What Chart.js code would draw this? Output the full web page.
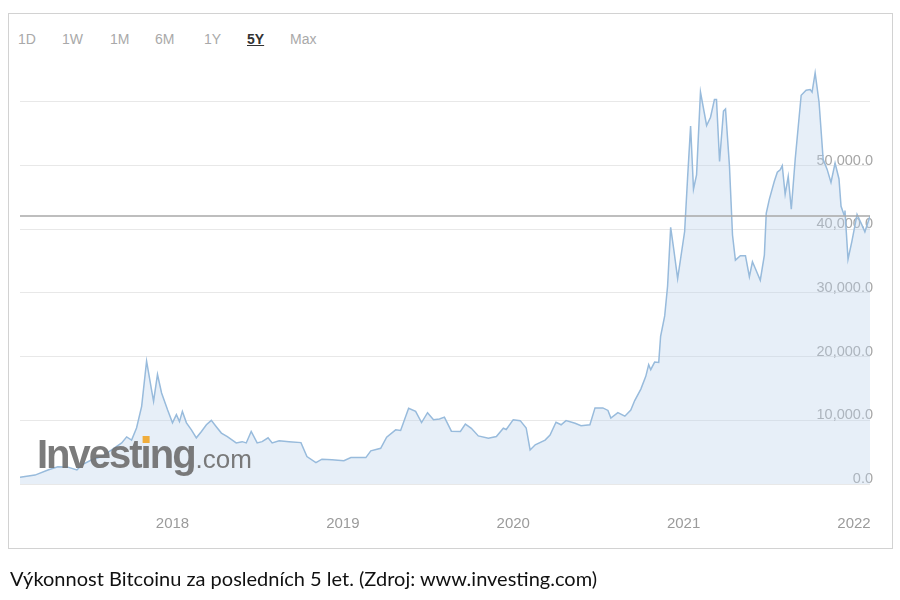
<!DOCTYPE html>
<html>
<head>
<meta charset="utf-8">
<script src="https://cdn.jsdelivr.net/npm/chart.js@4.4.1/dist/chart.umd.min.js"></script>
<style>
  body { margin: 0; background: #fff; font-family: "Liberation Sans", Arial, sans-serif; }
  #wrap { position: relative; width: 900px; height: 600px; overflow: hidden; }
  #frame { position: absolute; left: 8px; top: 13px; width: 885px; height: 536px; border: 1px solid #d2d2d2; box-sizing: border-box; }
  #chart { position: absolute; left: 0; top: 0; }
  .range { position: absolute; top: 31px; font-size: 14px; line-height: 16px; color: #a9a9a9; }
  .range.active { color: #333; font-weight: bold; text-decoration: underline; }
  #caption { position: absolute; left: 10px; top: 566px; font-family: Lato, "Open Sans", sans-serif; font-size: 20px; line-height: 24px; color: #111; }
</style>
</head>
<body>
<div id="wrap">
  <div id="frame"></div>
  <div id="ranges"></div>
  <canvas id="chart" width="900" height="600"></canvas>
  <div id="caption">Výkonnost Bitcoinu za posledních 5 let. (Zdroj: www.investing.com)</div>
</div>
<script>
// range buttons above the chart
const rangeLabels = ['1D', '1W', '1M', '6M', '1Y', '5Y', 'Max'];
const rangeLeft = [18, 62, 110, 155, 204, 247, 290];
const activeRange = '5Y';

// axis ticks
const xTicks = [2018, 2019, 2020, 2021, 2022];
const yTicks = [0, 10000, 20000, 30000, 40000, 50000, 60000];

// BTC/USD, decimal year -> price
const years = [
    2017.105, 2017.193, 2017.269, 2017.327, 2017.386, 2017.439, 2017.468, 2017.526, 2017.585, 2017.643,
    2017.702, 2017.731, 2017.760, 2017.789, 2017.819, 2017.848, 2017.877, 2017.889, 2017.912, 2017.936,
    2017.971, 2018.000, 2018.023, 2018.041, 2018.058, 2018.082, 2018.111, 2018.140, 2018.170, 2018.199,
    2018.228, 2018.257, 2018.287, 2018.322, 2018.351, 2018.374, 2018.409, 2018.433, 2018.462, 2018.497,
    2018.526, 2018.561, 2018.585, 2018.626, 2018.684, 2018.754, 2018.789, 2018.842, 2018.877, 2018.936,
    2019.006, 2019.047, 2019.135, 2019.164, 2019.222, 2019.257, 2019.310, 2019.339, 2019.386, 2019.427,
    2019.462, 2019.497, 2019.532, 2019.567, 2019.596, 2019.637, 2019.690, 2019.719, 2019.754, 2019.795,
    2019.854, 2019.901, 2019.942, 2019.959, 2020.000, 2020.041, 2020.076, 2020.099, 2020.129, 2020.187,
    2020.216, 2020.251, 2020.281, 2020.310, 2020.363, 2020.398, 2020.450, 2020.480, 2020.526, 2020.556,
    2020.573, 2020.614, 2020.655, 2020.690, 2020.713, 2020.749, 2020.778, 2020.795, 2020.807, 2020.830,
    2020.854, 2020.865, 2020.889, 2020.906, 2020.924, 2020.942, 2020.965, 2020.982, 2021.006, 2021.023,
    2021.041, 2021.058, 2021.076, 2021.099, 2021.135, 2021.158, 2021.181, 2021.193, 2021.211, 2021.234,
    2021.246, 2021.269, 2021.287, 2021.304, 2021.333, 2021.363, 2021.386, 2021.404, 2021.421, 2021.450,
    2021.474, 2021.485, 2021.503, 2021.532, 2021.550, 2021.567, 2021.579, 2021.596, 2021.614, 2021.632,
    2021.655, 2021.690, 2021.719, 2021.743, 2021.754, 2021.772, 2021.795, 2021.819, 2021.842, 2021.865,
    2021.889, 2021.912, 2021.924, 2021.942, 2021.947, 2021.965, 2021.988, 2022.018, 2022.047, 2022.064,
    2022.094
];
const prices = [
    1050, 1400, 2200, 2700, 2650, 2200, 3000, 3800, 4300, 5350,
    6450, 7400, 6900, 8800, 12200, 19300, 14800, 13000, 17200, 14300,
    11650, 9600, 10900, 9800, 11400, 9600, 8500, 7250, 8250, 9300,
    10000, 9000, 8000, 7450, 6900, 6450, 6650, 6450, 8250, 6450,
    6650, 7250, 6450, 6800, 6650, 6500, 4300, 3350, 3900, 3800,
    3650, 4150, 4150, 5200, 5600, 7350, 8500, 8400, 11900, 11400,
    9650, 11200, 10100, 10200, 10500, 8300, 8250, 9400, 8750, 7550,
    7200, 7450, 8750, 8550, 10100, 9950, 8800, 5350, 6150, 6900,
    7700, 9700, 9300, 9950, 9550, 9150, 9300, 11950, 11950, 11550,
    10350, 11200, 10650, 11600, 13100, 14900, 16900, 18750, 17950, 19150,
    19100, 23200, 26400, 31100, 40300, 36900, 32250, 35300, 39650, 47900,
    56200, 46300, 48550, 61550, 56300, 57600, 60400, 60400, 50650, 58550,
    58900, 50000, 39100, 35150, 35850, 35850, 32550, 34900, 33850, 32000,
    35950, 42500, 44700, 47500, 48950, 49350, 50000, 45500, 48300, 43150,
    51000, 61050, 61850, 61950, 61550, 64550, 59950, 51000, 49450, 47350,
    50400, 47900, 43600, 42250, 42950, 35300, 38150, 42350, 40650, 39600,
    42100
];

const FONT = '"Liberation Sans", Arial, sans-serif';

document.addEventListener('DOMContentLoaded', function () {
    const box = document.getElementById('ranges');
    rangeLabels.forEach((t, i) => {
        const s = document.createElement('span');
        s.className = 'range' + (t === activeRange ? ' active' : '');
        s.style.left = rangeLeft[i] + 'px';
        s.textContent = t;
        box.appendChild(s);
    });
    renderChart();
});

// Investing.com logo over the plot
const watermark = {
    id: 'watermark',
    afterDatasetsDraw(chart) {
        const c = chart.ctx;
        const x = chart.chartArea.left + 17;
        const y = chart.chartArea.bottom - 16;
        c.save();
        c.fillStyle = 'rgba(112,112,112,0.92)';
        c.font = 'bold 40px ' + FONT;
        c.letterSpacing = '-2px';
        c.textBaseline = 'alphabetic';
        c.fillText('Investing', x, y);
        const w = c.measureText('Investing').width;
        const before = c.measureText('Invest').width;
        c.fillStyle = '#f0ad3c';
        c.fillRect(x + before + 2, y - 32, 7, 7);
        c.letterSpacing = '0px';
        c.fillStyle = 'rgba(112,112,112,0.92)';
        c.font = '26px ' + FONT;
        c.fillText('.com', x + w + 1, y);
        c.restore();
    }
};

function renderChart() {
    const ctx = document.getElementById('chart');
    const last = prices[prices.length - 1];
    const points = years.map((x, i) => ({ x, y: prices[i] }));

    new Chart(ctx, {
        type: 'line',
        data: {
            datasets: [{
                label: 'Last',
                data: [{ x: years[0], y: last }, { x: years[years.length - 1], y: last }],
                borderColor: '#a8a8a8',
                borderWidth: 1.5,
                pointRadius: 0,
                fill: false,
                order: 0,
            }, {
                label: 'BTC/USD',
                data: points,
                borderColor: '#98bbdc',
                backgroundColor: 'rgba(185, 210, 235, 0.35)',
                borderWidth: 1.5,
                pointRadius: 0,
                tension: 0,
                fill: 'origin',
                order: 1,
            }]
        },
        options: {
            responsive: false,
            animation: false,
            layout: { padding: { left: 20, right: 24, top: 51, bottom: 44 } },
            plugins: { legend: { display: false }, tooltip: { enabled: false } },
            scales: {
                x: {
                    type: 'linear',
                    min: years[0],
                    max: years[years.length - 1],
                    afterBuildTicks: axis => { axis.ticks = xTicks.map(v => ({ value: v })); },
                    grid: { display: false },
                    border: { display: false },
                    ticks: {
                        autoSkip: false, maxRotation: 0,
                        padding: 23, color: '#9b9b9b', font: { size: 15, family: FONT },
                        callback: v => String(v)
                    }
                },
                y: {
                    position: 'right',
                    min: 0,
                    max: 68000,
                    afterBuildTicks: axis => { axis.ticks = yTicks.map(v => ({ value: v })); },
                    grid: { color: '#e8e8e8', drawTicks: false },
                    border: { display: false },
                    ticks: {
                        mirror: true, padding: 3, labelOffset: -5,
                        color: '#a6a6a6', font: { size: 14.5, family: FONT },
                        callback: v => v >= 60000 ? '' : v.toLocaleString('en-US', { minimumFractionDigits: 1, maximumFractionDigits: 1 })
                    }
                }
            }
        },
        plugins: [watermark]
    });
}
</script>
</body>
</html>
